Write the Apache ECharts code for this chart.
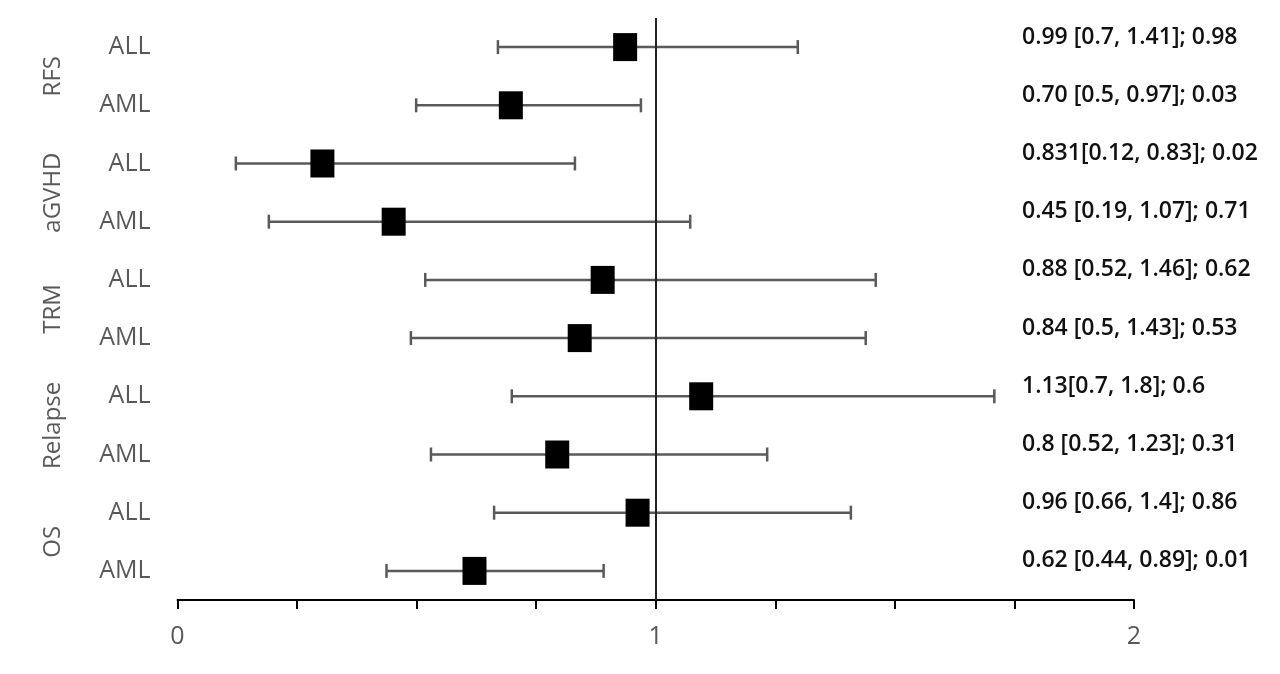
<!DOCTYPE html>
<html>
<head>
<meta charset="utf-8">
<script src="https://cdn.jsdelivr.net/npm/echarts@6/dist/echarts.min.js"></script>
<style>
html,body{margin:0;padding:0;background:#fff;}
#chart{width:1280px;height:674px;}
</style>
</head>
<body>
<div id="chart"></div>
<script>
const groups = ['RFS', 'aGVHD', 'TRM', 'Relapse', 'OS'];
const rowLabels = ['ALL', 'AML', 'ALL', 'AML', 'ALL', 'AML', 'ALL', 'AML', 'ALL', 'AML'];
const estimates = [0.936, 0.697, 0.303, 0.452, 0.889, 0.841, 1.095, 0.794, 0.962, 0.621];
const lower = [0.670, 0.499, 0.122, 0.191, 0.518, 0.488, 0.699, 0.530, 0.662, 0.437];
const upper = [1.297, 0.969, 0.831, 1.072, 1.460, 1.439, 1.708, 1.233, 1.408, 0.891];
const annotations = [
  '0.99 [0.7, 1.41]; 0.98',
  '0.70 [0.5, 0.97]; 0.03',
  '0.831[0.12, 0.83]; 0.02',
  '0.45 [0.19, 1.07]; 0.71',
  '0.88 [0.52, 1.46]; 0.62',
  '0.84 [0.5, 1.43]; 0.53',
  '1.13[0.7, 1.8]; 0.6',
  '0.8 [0.52, 1.23]; 0.31',
  '0.96 [0.66, 1.4]; 0.86',
  '0.62 [0.44, 0.89]; 0.01'
];
const xTickLabels = ['0', '1', '2'];
const refValue = 1;

const rowIdx = rowLabels.map((_, i) => i);
const errData = rowIdx.map(i => [i, lower[i], upper[i]]);
const pointData = rowIdx.map(i => [estimates[i], i]);

const chart = echarts.init(document.getElementById('chart'));
const font = '"Open Sans", sans-serif';
chart.setOption({
  animation: false,
  backgroundColor: '#fff',
  grid: { left: 177.5, right: 146, top: 18, bottom: 74, containLabel: false },
  xAxis: {
    type: 'value', min: 0, max: 2, interval: 0.25,
    axisLine: { show: true, lineStyle: { color: '#000', width: 2 } },
    axisTick: { show: true, length: 9, lineStyle: { color: '#000', width: 2 } },
    splitLine: { show: false },
    axisLabel: {
      margin: 24, color: '#595959', fontSize: 25, fontFamily: font,
      formatter: v => { const k = Math.round(v); return Math.abs(v - k) < 1e-9 ? xTickLabels[k] : ''; }
    }
  },
  yAxis: [
    {
      type: 'category', inverse: true, data: rowLabels,
      axisLine: { show: false }, axisTick: { show: false },
      axisLabel: { margin: 27, color: '#595959', fontSize: 25, fontFamily: font }
    },
    {
      type: 'category', inverse: true, data: annotations, position: 'right', offset: -112,
      axisLine: { show: false }, axisTick: { show: false },
      axisLabel: { margin: 0, align: 'left', verticalAlign: 'bottom', lineHeight: 20, color: '#111', fontSize: 23, fontWeight: 600, fontFamily: font }
    },
    {
      type: 'category', inverse: true, data: groups, position: 'left',
      axisLine: { show: false }, axisTick: { show: false },
      axisLabel: { margin: 112, rotate: 90, color: '#595959', fontSize: 24, fontFamily: font }
    }
  ],
  series: [
    {
      type: 'custom',
      data: errData,
      encode: { x: [1, 2], y: 0 },
      renderItem: (params, api) => {
        const y = api.value(0);
        const p1 = api.coord([api.value(1), y]);
        const p2 = api.coord([api.value(2), y]);
        const h = 7;
        const st = { stroke: '#5a5a5a', lineWidth: 2.5 };
        return {
          type: 'group',
          children: [
            { type: 'line', shape: { x1: p1[0], y1: p1[1], x2: p2[0], y2: p2[1] }, style: st },
            { type: 'line', shape: { x1: p1[0], y1: p1[1] - h, x2: p1[0], y2: p1[1] + h }, style: st },
            { type: 'line', shape: { x1: p2[0], y1: p2[1] - h, x2: p2[0], y2: p2[1] + h }, style: st }
          ]
        };
      },
      markLine: {
        symbol: 'none', silent: true, label: { show: false },
        lineStyle: { color: '#222', width: 2, type: 'solid' },
        data: [{ xAxis: refValue }]
      },
      z: 2
    },
    {
      type: 'scatter',
      data: pointData,
      symbol: 'rect',
      symbolSize: [24, 28],
      itemStyle: { color: '#000', opacity: 1 },
      emphasis: { disabled: true },
      z: 3
    }
  ]
});
</script>
</body>
</html>
